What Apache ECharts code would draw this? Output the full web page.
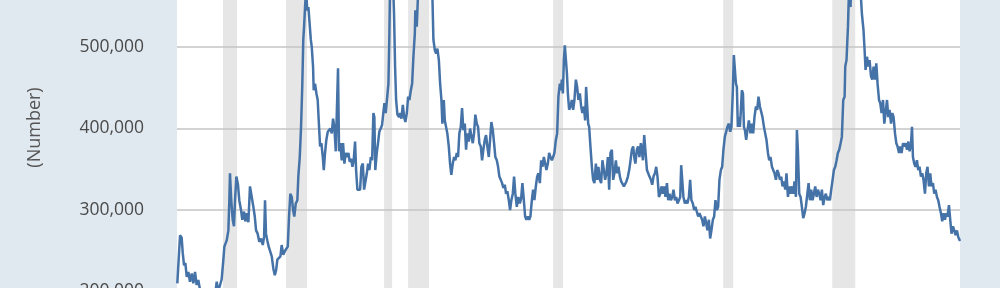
<!DOCTYPE html>
<html>
<head>
<meta charset="utf-8">
<script src="https://cdn.jsdelivr.net/npm/echarts@6/dist/echarts.min.js"></script>
<style>
html,body{margin:0;padding:0;width:1000px;height:288px;overflow:hidden;background:#e1e9f0;}
#c{position:absolute;left:0;top:-200px;width:1000px;height:800px;}
</style>
</head>
<body>
<div id="c"></div>
<script>
// Weekly initial claims (decimal year)
const years = [
1967.02,1967.19,1967.29,1967.36,1967.44,1967.52,1967.61,1967.71,1967.81,1967.92,
1968.02,1968.125,1968.23,1968.33,1968.44,1968.56,1968.69,1968.81,1968.94,1969.06,
1969.19,1969.31,1969.41,1969.48,1969.58,1969.69,1969.79,1969.88,1969.96,1970.11,
1970.21,1970.27,1970.31,1970.39,1970.48,1970.56,1970.625,1970.71,1970.81,1970.89,
1971.0,1971.08,1971.19,1971.27,1971.375,1971.46,1971.56,1971.67,1971.77,1971.86,
1971.94,1972.04,1972.14,1972.25,1972.36,1972.44,1972.5,1972.56,1972.64,1972.73,
1972.81,1972.92,1973.02,1973.11,1973.19,1973.27,1973.36,1973.46,1973.54,1973.64,
1973.75,1973.92,1974.0,1974.08,1974.17,1974.25,1974.33,1974.42,1974.52,1974.58,
1974.67,1974.75,1974.83,1974.89,1974.94,1975.0,1975.06,1975.14,1975.21,1975.27,
1975.36,1975.42,1975.5,1975.54,1975.625,1975.71,1975.79,1975.875,1975.94,1976.02,
1976.11,1976.17,1976.25,1976.33,1976.42,1976.5,1976.58,1976.67,1976.75,1976.83,
1976.92,1977.0,1977.06,1977.125,1977.21,1977.29,1977.375,1977.46,1977.54,1977.625,
1977.71,1977.79,1977.875,1977.96,1978.04,1978.125,1978.19,1978.27,1978.36,1978.44,
1978.52,1978.61,1978.69,1978.77,1978.86,1978.94,1979.02,1979.11,1979.19,1979.27,
1979.33,1979.39,1979.48,1979.56,1979.64,1979.73,1979.81,1979.89,1979.96,1980.04,
1980.125,1980.21,1980.27,1980.33,1980.39,1980.46,1980.56,1980.625,1980.69,1980.77,
1980.875,1980.94,1981.02,1981.11,1981.19,1981.27,1981.36,1981.44,1981.52,1981.61,
1981.69,1981.77,1981.86,1981.89,1981.98,1982.06,1982.19,1982.31,1982.44,1982.56,
1982.69,1982.81,1982.96,1983.02,1983.11,1983.19,1983.27,1983.36,1983.44,1983.52,
1983.58,1983.67,1983.73,1983.81,1983.89,1983.98,1984.06,1984.14,1984.23,1984.31,
1984.39,1984.48,1984.56,1984.64,1984.73,1984.81,1984.89,1984.98,1985.06,1985.14,
1985.23,1985.31,1985.39,1985.48,1985.56,1985.64,1985.73,1985.81,1985.89,1985.98,
1986.06,1986.14,1986.23,1986.31,1986.39,1986.48,1986.56,1986.64,1986.73,1986.81,
1986.89,1986.98,1987.06,1987.14,1987.23,1987.31,1987.39,1987.48,1987.56,1987.64,
1987.73,1987.81,1987.89,1987.98,1988.06,1988.14,1988.23,1988.33,1988.42,1988.5,
1988.58,1988.67,1988.75,1988.83,1988.92,1989.0,1989.08,1989.17,1989.25,1989.33,
1989.42,1989.5,1989.58,1989.67,1989.75,1989.83,1989.92,1990.0,1990.08,1990.17,
1990.25,1990.33,1990.42,1990.5,1990.58,1990.67,1990.75,1990.83,1990.92,1991.0,
1991.04,1991.11,1991.17,1991.23,1991.29,1991.36,1991.42,1991.5,1991.58,1991.67,
1991.75,1991.83,1991.92,1992.0,1992.08,1992.17,1992.25,1992.33,1992.42,1992.5,
1992.56,1992.625,1992.69,1992.75,1992.83,1992.92,1993.0,1993.08,1993.17,1993.25,
1993.33,1993.42,1993.5,1993.58,1993.67,1993.75,1993.83,1993.92,1994.0,1994.08,
1994.17,1994.25,1994.33,1994.42,1994.5,1994.58,1994.67,1994.75,1994.83,1994.92,
1995.0,1995.08,1995.17,1995.25,1995.33,1995.42,1995.5,1995.58,1995.64,1995.73,
1995.81,1995.89,1995.98,1996.06,1996.11,1996.19,1996.27,1996.36,1996.44,1996.52,
1996.61,1996.69,1996.77,1996.86,1996.94,1997.02,1997.11,1997.19,1997.27,1997.36,
1997.44,1997.52,1997.61,1997.69,1997.77,1997.86,1997.94,1998.02,1998.11,1998.19,
1998.27,1998.36,1998.44,1998.5,1998.56,1998.64,1998.73,1998.81,1998.89,1998.98,
1999.06,1999.14,1999.23,1999.31,1999.39,1999.48,1999.56,1999.64,1999.73,1999.81,
1999.89,1999.98,2000.06,2000.14,2000.23,2000.31,2000.39,2000.48,2000.56,2000.64,
2000.73,2000.81,2000.89,2000.98,2001.06,2001.14,2001.23,2001.31,2001.39,2001.48,
2001.56,2001.64,2001.73,2001.79,2001.86,2001.92,2001.98,2002.04,2002.11,2002.17,
2002.23,2002.29,2002.36,2002.42,2002.48,2002.56,2002.64,2002.73,2002.83,2002.92,
2003.0,2003.08,2003.17,2003.25,2003.33,2003.42,2003.5,2003.58,2003.67,2003.75,
2003.83,2003.92,2004.0,2004.08,2004.17,2004.25,2004.33,2004.42,2004.5,2004.58,
2004.67,2004.75,2004.83,2004.92,2005.0,2005.08,2005.17,2005.25,2005.33,2005.42,
2005.5,2005.58,2005.67,2005.73,2005.79,2005.875,2005.96,2006.04,2006.125,2006.21,
2006.29,2006.375,2006.46,2006.54,2006.625,2006.71,2006.79,2006.875,2006.96,2007.04,
2007.125,2007.21,2007.29,2007.375,2007.46,2007.54,2007.625,2007.71,2007.79,2007.875,
2007.96,2008.04,2008.125,2008.21,2008.29,2008.375,2008.46,2008.54,2008.625,2008.71,
2008.75,2008.83,2008.92,2009.0,2009.08,2009.16,2009.25,2009.375,2009.5,2009.625,
2009.69,2009.79,2009.89,2009.96,2010.02,2010.11,2010.19,2010.27,2010.36,2010.44,
2010.52,2010.61,2010.69,2010.77,2010.86,2010.94,2011.02,2011.11,2011.19,2011.27,
2011.36,2011.44,2011.52,2011.61,2011.69,2011.77,2011.86,2011.94,2012.02,2012.11,
2012.19,2012.27,2012.36,2012.44,2012.52,2012.61,2012.69,2012.77,2012.86,2012.92,
2012.98,2013.06,2013.14,2013.23,2013.31,2013.39,2013.48,2013.56,2013.64,2013.73,
2013.81,2013.89,2013.98,2014.06,2014.14,2014.23,2014.31,2014.39,2014.48,2014.56,
2014.64,2014.73,2014.81,2014.89,2014.98,2015.06,2015.14,2015.23,2015.31,2015.39,
2015.48,2015.56,2015.64,2015.73,2015.81,2015.92
];

// Initial claims, thousands
const claimsK = [
210,269,266,247,232,235,218,224,212,222,
210,224,208,214,202,196,190,195,186,192,
188,195,200,212,200,200,215,235,255,263,
275,312,345,312,288,280,312,341,331,312,
300,288,298,286,296,285,329,327,304,292,
275,271,261,265,257,267,312,271,263,255,
253,243,228,220,226,239,241,243,257,245,
250,255,292,320,316,300,292,308,312,341,
365,402,455,509,525,549,570,545,549,533,
509,500,476,447,455,443,435,402,378,382,
365,349,370,386,396,394,400,394,412,402,
372,374,474,372,382,361,382,357,370,365,
370,359,363,353,361,384,349,325,323,325,
353,357,325,323,345,357,349,365,361,419,
414,349,370,382,396,394,404,419,431,419,
419,455,517,600,640,600,541,476,435,417,
414,419,412,429,414,408,419,439,435,447,
455,488,517,545,525,565,580,610,650,640,
620,600,560,509,496,492,498,484,455,435,
406,435,410,402,394,378,357,343,357,365,
361,370,365,394,402,425,398,406,374,394,
384,400,398,382,394,417,406,402,382,378,
361,374,386,392,378,365,386,408,398,382,
365,361,353,341,337,333,327,331,320,323,
312,300,312,320,341,320,304,316,308,314,
333,312,292,288,292,288,292,312,325,312,
329,341,345,333,361,353,365,367,349,357,
370,365,361,365,370,386,394,439,455,447,
460,443,484,502,500,468,443,423,427,435,
423,435,460,451,435,443,427,419,427,410,
451,449,406,402,378,353,337,333,357,337,
353,337,333,361,349,337,345,365,325,370,
374,337,345,361,345,353,341,335,337,329,
327,335,341,349,360,374,378,363,357,374,
378,365,382,370,361,392,394,349,345,341,
337,331,341,345,353,341,316,320,329,320,
329,316,333,312,320,312,316,325,312,316,
308,312,316,355,353,316,308,312,308,316,
337,312,308,300,304,302,292,296,296,288,
280,292,284,275,288,265,275,288,292,312,
300,304,337,349,353,374,390,392,402,406,
396,402,447,490,488,455,451,402,414,402,
423,447,443,402,398,386,398,410,394,406,
394,414,427,423,439,427,427,414,402,402,
386,370,361,365,353,349,345,337,349,345,
337,341,329,335,325,345,316,329,320,329,
320,335,316,398,374,320,316,304,290,296,
304,302,333,312,325,312,320,329,316,325,
320,312,325,306,316,320,312,316,312,325,
337,349,353,361,370,374,382,390,435,439,
476,484,525,580,549,600,640,665,640,610,
575,541,521,496,472,488,476,484,464,460,
476,460,480,455,435,431,419,435,406,419,
435,414,423,406,419,414,394,382,378,370,
378,370,382,378,382,374,384,372,382,402,
365,357,353,361,349,353,341,345,337,320,
345,353,329,345,329,333,320,325,316,312,
304,296,286,296,288,296,292,306,288,271,
280,275,269,275,267,262
];

// Recession periods (start, end) in decimal years
const recessions = [
[1969.875,1970.75],[1973.81,1975.125],[1979.94,1980.44],[1981.44,1982.75],
[1990.5,1991.125],[2001.125,2001.75],[2007.94,2009.375]
];

const yTicks = {min: 0, max: 700000, interval: 100000};
const xRange = {min: 1967.0, max: 2015.92};
const yTitle = '(Number)';

const chart = echarts.init(document.getElementById('c'), null, {renderer: 'canvas'});
const seriesData = years.map((y, i) => [y, claimsK[i] * 1000]);

chart.setOption({
  animation: false,
  backgroundColor: '#e1e9f0',
  grid: {left: 177, right: 40, top: 84, bottom: 145.5, show: true, backgroundColor: '#ffffff', borderWidth: 0},
  xAxis: {type: 'value', min: xRange.min, max: xRange.max, show: false},
  yAxis: {
    type: 'value', min: yTicks.min, max: yTicks.max, interval: yTicks.interval, z: 1.5,
    axisLine: {show: false}, axisTick: {show: false},
    splitLine: {lineStyle: {color: '#c4c4c4', width: 1.5}},
    axisLabel: {
      margin: 33, fontSize: 17.5, color: '#4a4a4a', fontFamily: '"Open Sans", sans-serif',
      formatter: v => v.toLocaleString('en-US')
    }
  },
  graphic: [{
    type: 'text', x: 35, y: 327.5, rotation: Math.PI / 2,
    style: {text: yTitle, fill: '#555555', font: '18px "Open Sans", sans-serif', align: 'center', verticalAlign: 'middle'}
  }],
  series: [{
    type: 'line', data: seriesData, showSymbol: false, sampling: null,
    lineStyle: {color: '#4572a7', width: 2.5}, itemStyle: {color: '#4572a7'},
    z: 2,
    markArea: {
      silent: true, z: 1,
      itemStyle: {color: '#e6e6e6'},
      data: recessions.map(r => [{xAxis: r[0]}, {xAxis: r[1]}])
    }
  }]
});
</script>
</body>
</html>
